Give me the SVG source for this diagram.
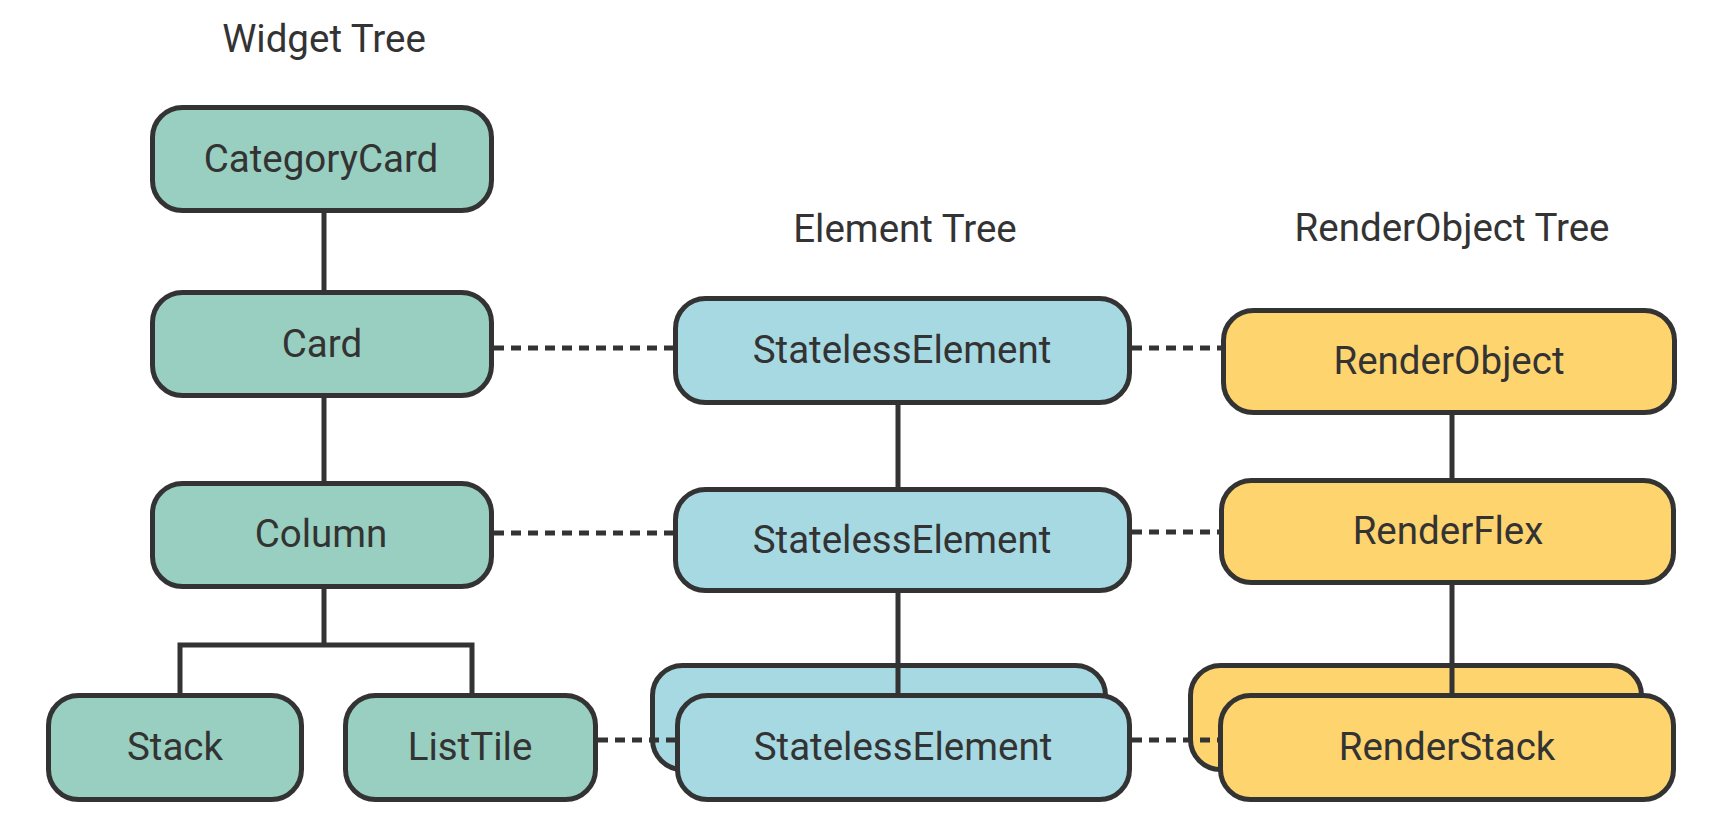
<svg xmlns="http://www.w3.org/2000/svg" width="1713" height="830" viewBox="0 0 1713 830">
<style>
.box{stroke:#333;stroke-width:5}
.w{fill:#98cfc0}
.e{fill:#a7d9e3}
.r{fill:#fed46f}
text{font-family:Roboto,"Liberation Sans",sans-serif;font-size:38.5px;font-weight:400;fill:#333;text-anchor:middle}
.solid{stroke:#333;stroke-width:5;fill:none}
.dash{stroke:#333;stroke-width:5;fill:none;stroke-dasharray:10 7}
</style>
<rect width="1713" height="830" fill="#fff"/>
<g id="titles">
<text x="324" y="52">Widget Tree</text>
<text x="905" y="242">Element Tree</text>
<text x="1452" y="241">RenderObject Tree</text>
</g>
<g id="widget-CategoryCard"><rect class="box w" x="152.5" y="107.5" width="339" height="103" rx="30"/><text x="321" y="172">CategoryCard</text></g>
<g id="widget-Card"><rect class="box w" x="152.5" y="292.5" width="339" height="103" rx="30"/><text x="322" y="357">Card</text></g>
<g id="widget-Column"><rect class="box w" x="152.5" y="483.5" width="339" height="103" rx="30"/><text x="321" y="547">Column</text></g>
<g id="widget-Stack"><rect class="box w" x="48.5" y="695.5" width="253" height="104" rx="30"/><text x="175" y="760">Stack</text></g>
<g id="widget-ListTile"><rect class="box w" x="345.5" y="695.5" width="250" height="104" rx="30"/><text x="470" y="760">ListTile</text></g>
<g id="element-1"><rect class="box e" x="675.5" y="298.5" width="454" height="104" rx="30"/><text x="902" y="363">StatelessElement</text></g>
<g id="element-2"><rect class="box e" x="675.5" y="489.5" width="454" height="101" rx="30"/><text x="902" y="553">StatelessElement</text></g>
<g id="element-3"><rect class="box e" x="652.5" y="665.5" width="453" height="104" rx="30"/><rect class="box e" x="677.5" y="695.5" width="452" height="104" rx="30"/><text x="903" y="760">StatelessElement</text></g>
<g id="render-RenderObject"><rect class="box r" x="1223.5" y="310.5" width="451" height="102" rx="30"/><text x="1449" y="374">RenderObject</text></g>
<g id="render-RenderFlex"><rect class="box r" x="1221.5" y="480.5" width="452" height="102" rx="30"/><text x="1448" y="544">RenderFlex</text></g>
<g id="render-RenderStack"><rect class="box r" x="1190.5" y="665.5" width="451" height="104" rx="30"/><rect class="box r" x="1220.5" y="695.5" width="453" height="104" rx="30"/><text x="1447" y="760">RenderStack</text></g>
<g id="connectors">
<path class="solid" d="M324 213V290M324 398V481M324 589V645M180 693V645H472V693"/>
<path class="solid" d="M898 405V487M898 593V693"/>
<path class="solid" d="M1452 415V478M1452 585V693"/>
<path class="dash" d="M494 348H673M1132 348H1221M494 533H673M1132 532H1219M598 740H675M1132 740H1218"/>
</g>
</svg>
